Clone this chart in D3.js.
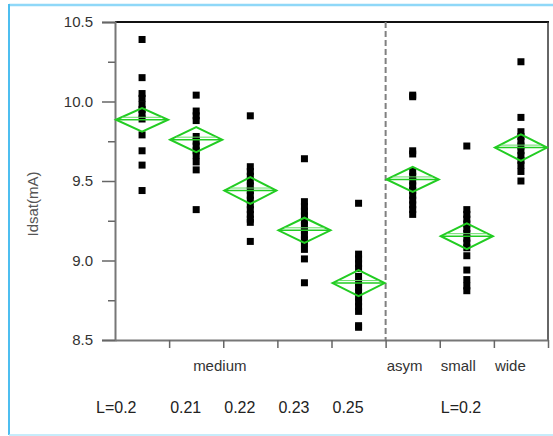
<!DOCTYPE html>
<html>
<head>
<meta charset="utf-8">
<script src="https://cdn.jsdelivr.net/npm/d3@7/dist/d3.min.js"></script>
<style>
  html, body { margin: 0; padding: 0; background: #fff; }
  svg { display: block; }
  text { font-family: "Liberation Sans", Arial, Helvetica, sans-serif; }
</style>
</head>
<body>
<div id="chart"></div>
<script>
// ---- Data ----
const categories = ["c1", "c2", "c3", "c4", "c5", "asym", "small", "wide"];

const values_c1 = [10.39, 10.15, 10.05, 10.02, 9.98, 9.95, 9.92, 9.89, 9.79, 9.69, 9.60, 9.44];
const values_c2 = [10.04, 9.94, 9.91, 9.88, 9.78, 9.75, 9.72, 9.69, 9.66, 9.62, 9.57, 9.32];
const values_c3 = [9.91, 9.59, 9.56, 9.53, 9.50, 9.47, 9.44, 9.41, 9.38, 9.35, 9.32, 9.29, 9.26, 9.24, 9.12];
const values_c4 = [9.64, 9.37, 9.34, 9.31, 9.28, 9.25, 9.22, 9.19, 9.16, 9.13, 9.11, 9.07, 9.01, 8.86];
const values_c5 = [9.36, 9.04, 9.01, 8.98, 8.95, 8.90, 8.86, 8.83, 8.80, 8.77, 8.74, 8.71, 8.68, 8.59, 8.58];
const values_asym = [10.04, 10.03, 9.69, 9.67, 9.56, 9.53, 9.50, 9.47, 9.44, 9.41, 9.38, 9.35, 9.32, 9.29];
const values_small = [9.72, 9.32, 9.29, 9.26, 9.23, 9.20, 9.17, 9.14, 9.11, 9.08, 9.03, 8.94, 8.88, 8.84, 8.81];
const values_wide = [10.25, 9.90, 9.81, 9.78, 9.75, 9.72, 9.69, 9.66, 9.63, 9.60, 9.56, 9.50];

const seriesValues = [values_c1, values_c2, values_c3, values_c4, values_c5, values_asym, values_small, values_wide];

const means = [9.885, 9.76, 9.44, 9.19, 8.858, 9.51, 9.153, 9.71];
const ciHalf = [0.074, 0.079, 0.084, 0.079, 0.082, 0.079, 0.081, 0.084];

const yTicks = [8.5, 9.0, 9.5, 10.0, 10.5];
const yMinorTicks = [8.75, 9.25, 9.75, 10.25];

const row1Labels = [
  { text: "medium", cat: "c2" },
  { text: "asym", cat: "asym" },
  { text: "small", cat: "small" },
  { text: "wide", cat: "wide" }
];
const row2Labels = [
  { text: "L=0.2", cat: "c1" },
  { text: "0.21", cat: "c2" },
  { text: "0.22", cat: "c3" },
  { text: "0.23", cat: "c4" },
  { text: "0.25", cat: "c5" },
  { text: "L=0.2", cat: "small" }
];
const yTitle = "Idsat(mA)";
const dividerAfter = "c5";

// ---- Layout ----
const W = 553, H = 436;
const plot = { left: 115, right: 548, top: 22, bottom: 340 };

const svg = d3.select("#chart").append("svg")
  .attr("width", W).attr("height", H);

// outer light-blue frame
svg.append("line").attr("x1", 9).attr("x2", W).attr("y1", 5).attr("y2", 5)
  .attr("stroke", "#8fd8f8").attr("stroke-width", 2.5);
svg.append("line").attr("x1", 9).attr("x2", 9).attr("y1", 4).attr("y2", 435)
  .attr("stroke", "#4dbef0").attr("stroke-width", 2);
svg.append("line").attr("x1", 9).attr("x2", W).attr("y1", 435).attr("y2", 435)
  .attr("stroke", "#b5e6fa").attr("stroke-width", 1.5);

const x = d3.scaleBand().domain(categories).range([plot.left, plot.right]).paddingInner(0).paddingOuter(0);
const y = d3.scaleLinear().domain([8.5, 10.5]).range([plot.bottom, plot.top]);

// frame: top and right
svg.append("line").attr("x1", plot.left).attr("x2", plot.right + 1)
  .attr("y1", plot.top).attr("y2", plot.top)
  .attr("stroke", "#111").attr("stroke-width", 2);
svg.append("line").attr("x1", plot.right).attr("x2", plot.right)
  .attr("y1", plot.top).attr("y2", plot.bottom)
  .attr("stroke", "#333").attr("stroke-width", 1.5);

// y axis (major)
const yAxis = d3.axisLeft(y).tickValues(yTicks).tickFormat(d3.format(".1f"))
  .tickSize(13).tickPadding(9);
const gy = svg.append("g").attr("transform", `translate(${plot.left},0)`).call(yAxis);
gy.select(".domain").attr("stroke", "#777").attr("stroke-width", 2);
gy.selectAll(".tick line").attr("stroke", "#666").attr("stroke-width", 1.5);
gy.selectAll(".tick text").attr("fill", "#333").style("font-size", "15px")
  .style("font-family", "'Liberation Sans', Arial, sans-serif");

// y minor ticks
const yMinor = d3.axisLeft(y).tickValues(yMinorTicks).tickFormat("").tickSize(7);
const gym = svg.append("g").attr("transform", `translate(${plot.left},0)`).call(yMinor);
gym.select(".domain").remove();
gym.selectAll(".tick line").attr("stroke", "#666").attr("stroke-width", 1.5);

// x axis: boundaries
const boundaries = categories.slice(1).map(c => x(c)).concat([plot.right]);
const xb = d3.scaleLinear().domain([plot.left, plot.right]).range([plot.left, plot.right]);
const xAxis = d3.axisBottom(xb).tickValues(boundaries).tickFormat("").tickSize(8).tickSizeOuter(0);
const gx = svg.append("g").attr("transform", `translate(0,${plot.bottom})`).call(xAxis);
gx.select(".domain").attr("stroke", "#777").attr("stroke-width", 2);
gx.selectAll(".tick line").attr("stroke", "#666").attr("stroke-width", 1.5);

// dashed divider
const xd = x(dividerAfter) + x.bandwidth();
svg.append("line").attr("x1", xd).attr("x2", xd)
  .attr("y1", plot.top).attr("y2", plot.bottom)
  .attr("stroke", "#808080").attr("stroke-width", 2).attr("stroke-dasharray", "6,3");

// points
const pts = [];
categories.forEach((c, i) => seriesValues[i].forEach(v => pts.push({ c, v })));
const S = 7;
svg.append("g").selectAll("rect").data(pts).join("rect")
  .attr("x", d => x(d.c) + x.bandwidth() / 2 - S / 2)
  .attr("y", d => y(d.v) - S / 2)
  .attr("width", S).attr("height", S)
  .attr("fill", "#000");

// mean diamonds
const dg = svg.append("g");
categories.forEach((c, i) => {
  const x0 = x(c) + 1, x1 = x(c) + x.bandwidth() - 1, xc = x(c) + x.bandwidth() / 2;
  const m = means[i], h = ciHalf[i];
  dg.append("path")
    .attr("d", d3.line()([[x0, y(m)], [xc, y(m + h)], [x1, y(m)], [xc, y(m - h)], [x0, y(m)]]) + "Z")
    .attr("fill", "none").attr("stroke", "#22cc22").attr("stroke-width", 2)
    .attr("stroke-linejoin", "miter");
  dg.append("line").attr("x1", x0).attr("x2", x1)
    .attr("y1", y(m)).attr("y2", y(m))
    .attr("stroke", "#22cc22").attr("stroke-width", 1.5);
  dg.append("line").attr("x1", x0 + 6).attr("x2", x1 - 6)
    .attr("y1", y(m) - 2.5).attr("y2", y(m) - 2.5)
    .attr("stroke", "#66dd66").attr("stroke-width", 1);
});

// y title
svg.append("text")
  .attr("transform", `translate(38,${(plot.top + plot.bottom) / 2 + 23}) rotate(-90)`)
  .attr("text-anchor", "middle")
  .attr("fill", "#555").style("font-size", "15px")
  .text(yTitle);

// row 1 labels (start-aligned near band start)
const row1Offset = { "medium": 24 };
svg.append("g").selectAll("text").data(row1Labels).join("text")
  .attr("x", d => x(d.cat) + (row1Offset[d.text] !== undefined ? row1Offset[d.text] : 1))
  .attr("y", 371)
  .attr("fill", "#333").style("font-size", "15px")
  .text(d => d.text);

// row 2 labels
svg.append("g").selectAll("text").data(row2Labels).join("text")
  .attr("x", (d, i) => x(d.cat) + (i === 0 ? -19 : 1))
  .attr("y", 413)
  .attr("fill", "#222").style("font-size", "16px")
  .text(d => d.text);
</script>
</body>
</html>
